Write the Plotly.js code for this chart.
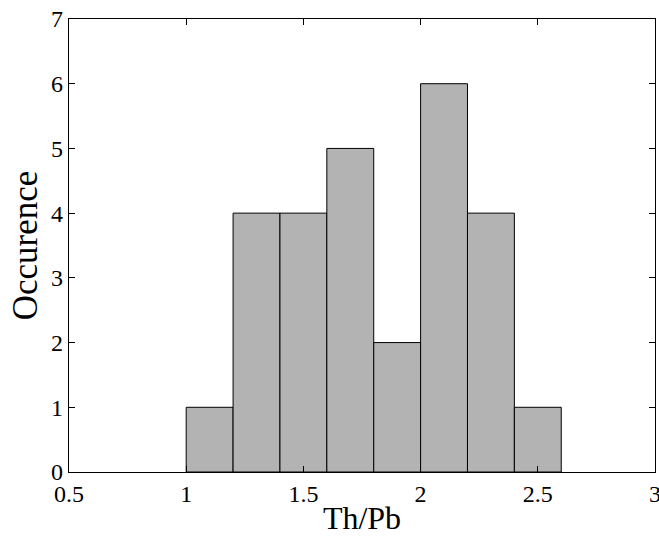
<!DOCTYPE html>
<html>
<head>
<meta charset="utf-8">
<script src="https://cdn.plot.ly/plotly-3.0.1.min.js"></script>
<style>html,body{margin:0;padding:0;background:#fff;}#chart{width:659px;height:536px;}</style>
</head>
<body>
<div id="chart"></div>
<script>
const binCenters = [1.1, 1.3, 1.5, 1.7, 1.9, 2.1, 2.3, 2.5];
const counts = [1, 4, 4, 5, 2, 6, 4, 1];
const xTicks = [0.5, 1, 1.5, 2, 2.5, 3];
const xTickLabels = ['0.5', '1', '1.5', '2', '2.5', '3'];
const yTicks = [0, 1, 2, 3, 4, 5, 6, 7];

const trace = {
  type: 'bar',
  x: binCenters,
  y: counts,
  width: 0.2,
  marker: {color: '#b3b3b3', line: {color: '#000', width: 1}},
  hoverinfo: 'x+y'
};

const font = {family: 'Liberation Serif, Times New Roman, serif', color: '#000'};

const layout = {
  width: 659, height: 536,
  margin: {l: 69, r: 4, t: 19, b: 64},
  paper_bgcolor: '#fff', plot_bgcolor: '#fff',
  showlegend: false,
  bargap: 0,
  font: font,
  xaxis: {
    range: [0.5, 3], tickvals: xTicks, ticktext: xTickLabels,
    ticklabeloverflow: 'allow',
    ticks: 'inside', ticklen: 6, tickcolor: '#000', tickwidth: 1,
    showline: true, linecolor: '#000', linewidth: 1.3, mirror: 'ticks',
    showgrid: false, zeroline: false, automargin: false,
    tickfont: {family: font.family, size: 24, color: '#000'},
    title: {text: 'Th/Pb', font: {family: font.family, size: 32, color: '#000'}, standoff: 2}
  },
  yaxis: {
    range: [0, 7], tickvals: yTicks,
    ticklabeloverflow: 'allow',
    ticks: 'inside', ticklen: 6, tickcolor: '#000', tickwidth: 1,
    showline: true, linecolor: '#000', linewidth: 1.3, mirror: 'ticks',
    showgrid: false, zeroline: false, automargin: false,
    tickfont: {family: font.family, size: 24, color: '#000'},
    title: {text: 'Occurence', font: {family: font.family, size: 35, color: '#000'}, standoff: 2}
  }
};

Plotly.newPlot('chart', [trace], layout, {displayModeBar: false, staticPlot: true});
</script>
</body>
</html>
